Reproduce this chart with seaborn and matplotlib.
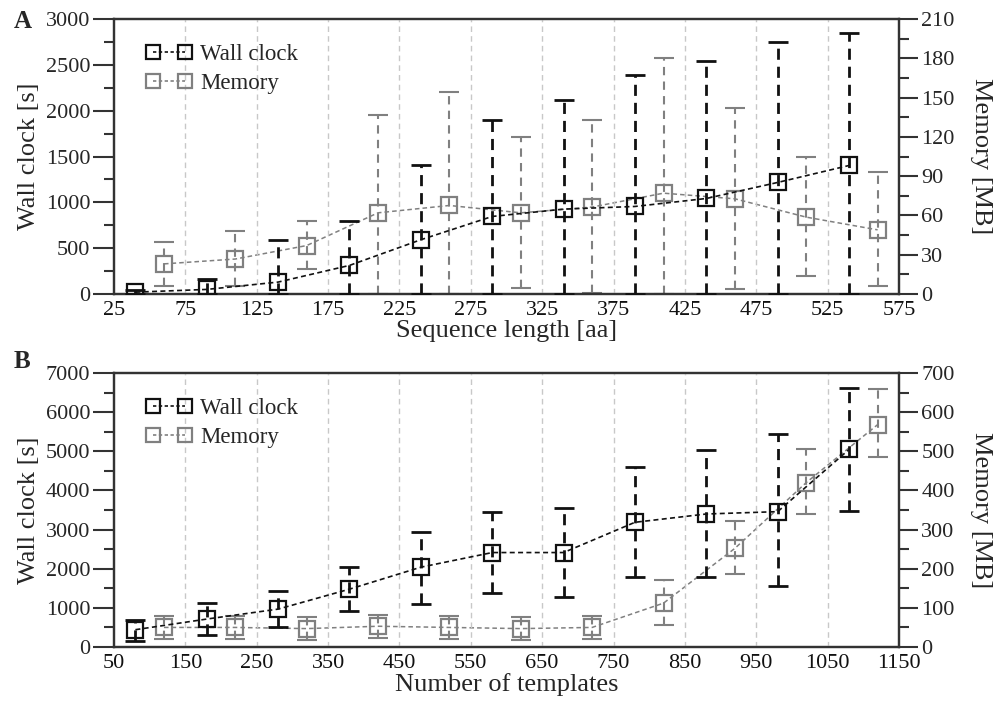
import numpy as np
import pandas as pd
import matplotlib
matplotlib.use("Agg")
import matplotlib.pyplot as plt
from matplotlib.lines import Line2D
from matplotlib.ticker import MultipleLocator
import seaborn as sns

# ---------------- Data: panel A (sequence length) ----------------
a_wall_x = [40, 90, 140, 190, 240, 290, 340, 390, 440, 490, 540]
a_wall_y = [20, 50, 130, 312, 592, 846, 926, 955, 1042, 1217, 1402]
a_wall_lo = [0, 0, 0, 0, 0, 0, 0, 0, 0, 0, 0]
a_wall_hi = [40, 163, 585, 800, 1406, 1896, 2118, 2386, 2546, 2750, 2844]

a_mem_x = [60, 110, 160, 210, 260, 310, 360, 410, 460, 510, 560]
a_mem_y = [23, 26.7, 37, 62, 67.6, 62, 66.4, 77, 72.7, 58.7, 49]
a_mem_lo = [5.8, 5.8, 19, 0, 0, 4.6, 1, 0, 3.8, 14, 5.8]
a_mem_hi = [40, 48, 56, 137, 154, 120, 133, 180, 142, 105, 93]

# ---------------- Data: panel B (number of templates) ----------------
b_wall_x = [80, 180, 280, 380, 480, 580, 680, 780, 880, 980, 1080]
b_wall_y = [442, 714, 968, 1478, 2039, 2413, 2413, 3186, 3398, 3458, 5047]
b_wall_lo = [144, 314, 510, 909, 1087, 1376, 1274, 1776, 1784, 1546, 3475]
b_wall_hi = [680, 1121, 1419, 2039, 2948, 3458, 3560, 4605, 5030, 5437, 6618]

b_mem_x = [120, 220, 320, 420, 520, 620, 720, 820, 920, 1020, 1120]
b_mem_y = [50, 50, 47, 53, 50, 47, 50, 112, 252, 420, 568]
b_mem_lo = [20, 20, 17, 23, 20, 17, 20, 57, 186, 341, 485]
b_mem_hi = [80, 80, 77, 83, 80, 77, 80, 170, 323, 506, 658]

sns.set_theme(style="white")
plt.rcParams["font.family"] = ["Liberation Serif", "DejaVu Serif"]
plt.rcParams["mathtext.fontset"] = "stix"

BLACK = "#111111"
GREY = "#808080"
SPINE = "#333333"

fig = plt.figure(figsize=(10.03, 7.06), dpi=100)
axA = fig.add_axes([114 / 1003, 1 - 294 / 706, 785 / 1003, 275 / 706])
axB = fig.add_axes([114 / 1003, 1 - 647 / 706, 785 / 1003, 274 / 706])


def draw_panel(ax, wx, wy, wlo, whi, mx, my, mlo, mhi,
               xlim, xstep, ylim, ystep, y2lim, y2step, xlabel):
    ax2 = ax.twinx()
    # grid lines
    for xv in np.arange(xlim[0] + xstep, xlim[1], xstep):
        ax.axvline(xv, color="#c8c8c8", lw=1.0, ls=(0, (4, 3)), zorder=0)

    # wall clock on left axis
    dfw = pd.DataFrame({"x": wx, "y": wy})
    werr = [np.array(wy) - np.array(wlo), np.array(whi) - np.array(wy)]
    ax.errorbar(wx, wy, yerr=werr, fmt="none", ecolor=BLACK, elinewidth=2.0,
                capsize=7, capthick=2.0, ls="none", zorder=3)
    for c in ax.collections:
        c.set_linestyle((0, (4, 2.5)))
    sns.lineplot(data=dfw, x="x", y="y", ax=ax, color=BLACK, lw=1.2,
                 linestyle=(0, (3, 2)), marker="s", markersize=12,
                 markerfacecolor="none", markeredgecolor=BLACK,
                 markeredgewidth=1.6, zorder=4, legend=False)

    # memory on right axis
    dfm = pd.DataFrame({"x": mx, "y": my})
    merr = [np.array(my) - np.array(mlo), np.array(mhi) - np.array(my)]
    ax2.errorbar(mx, my, yerr=merr, fmt="none", ecolor=GREY, elinewidth=1.5,
                 capsize=7, capthick=1.5, zorder=2)
    for c in ax2.collections:
        c.set_linestyle((0, (4, 3)))
    sns.lineplot(data=dfm, x="x", y="y", ax=ax2, color=GREY, lw=1.1,
                 linestyle=(0, (3, 2)), marker="s", markersize=12,
                 markerfacecolor="none", markeredgecolor=GREY,
                 markeredgewidth=1.6, zorder=2, legend=False)

    ax.set_xlim(*xlim)
    ax.set_ylim(*ylim)
    ax2.set_ylim(*y2lim)
    ax.set_xticks(np.arange(xlim[0], xlim[1] + 1, xstep))
    ax.yaxis.set_major_locator(MultipleLocator(ystep))
    ax.yaxis.set_minor_locator(MultipleLocator(ystep / 2))
    ax2.yaxis.set_major_locator(MultipleLocator(y2step))
    ax2.yaxis.set_minor_locator(MultipleLocator(y2step / 2))

    ax.tick_params(axis="x", length=0, labelsize=16, pad=5, colors="#111111")
    ax.tick_params(axis="y", which="major", length=15, width=1.5,
                   direction="out", labelsize=16, color=SPINE, pad=2)
    ax.tick_params(axis="y", which="minor", length=7, width=1.5,
                   direction="out", color=SPINE, left=True)
    ax2.tick_params(axis="y", which="major", length=14, width=1.5,
                    direction="out", labelsize=16, color=SPINE, pad=2)
    ax2.tick_params(axis="y", which="minor", length=7, width=1.5,
                    direction="out", color=SPINE, right=True)

    for a in (ax, ax2):
        for s in a.spines.values():
            s.set_color(SPINE)
            s.set_linewidth(1.6)
    ax.set_xlabel(xlabel, fontsize=19, labelpad=0)
    ax.set_ylabel("Wall clock [s]", fontsize=19, labelpad=4)
    ax2.set_ylabel("Memory [MB]", fontsize=19, rotation=270, labelpad=27)
    ax.set_zorder(ax2.get_zorder() + 1)
    ax.patch.set_visible(False)

    handles = [
        Line2D([], [], color=BLACK, ls=(0, (2, 1.5)), lw=1.2, marker="s",
               markersize=10, markerfacecolor="none", markeredgewidth=1.6),
        Line2D([], [], color=GREY, ls=(0, (2, 1.5)), lw=1.2, marker="s",
               markersize=10, markerfacecolor="none", markeredgewidth=1.6),
    ]
    ax.legend(handles, ["Wall clock", "Memory"], loc="upper left",
              bbox_to_anchor=(0.015, 0.985), frameon=False, fontsize=16.5,
              numpoints=2, handlelength=2.0, handletextpad=0.35,
              labelspacing=0.35)
    return ax2


draw_panel(axA, a_wall_x, a_wall_y, a_wall_lo, a_wall_hi,
           a_mem_x, a_mem_y, a_mem_lo, a_mem_hi,
           (25, 575), 50, (0, 3000), 500, (0, 210), 30,
           "Sequence length [aa]")
draw_panel(axB, b_wall_x, b_wall_y, b_wall_lo, b_wall_hi,
           b_mem_x, b_mem_y, b_mem_lo, b_mem_hi,
           (50, 1150), 100, (0, 7000), 1000, (0, 700), 100,
           "Number of templates")

fig.text(14 / 1003, 1 - 22 / 706, "A", fontsize=18, fontweight="bold", va="center")
fig.text(14 / 1003, 1 - 361 / 706, "B", fontsize=18, fontweight="bold", va="center")

fig.savefig("out.png", dpi=100)
